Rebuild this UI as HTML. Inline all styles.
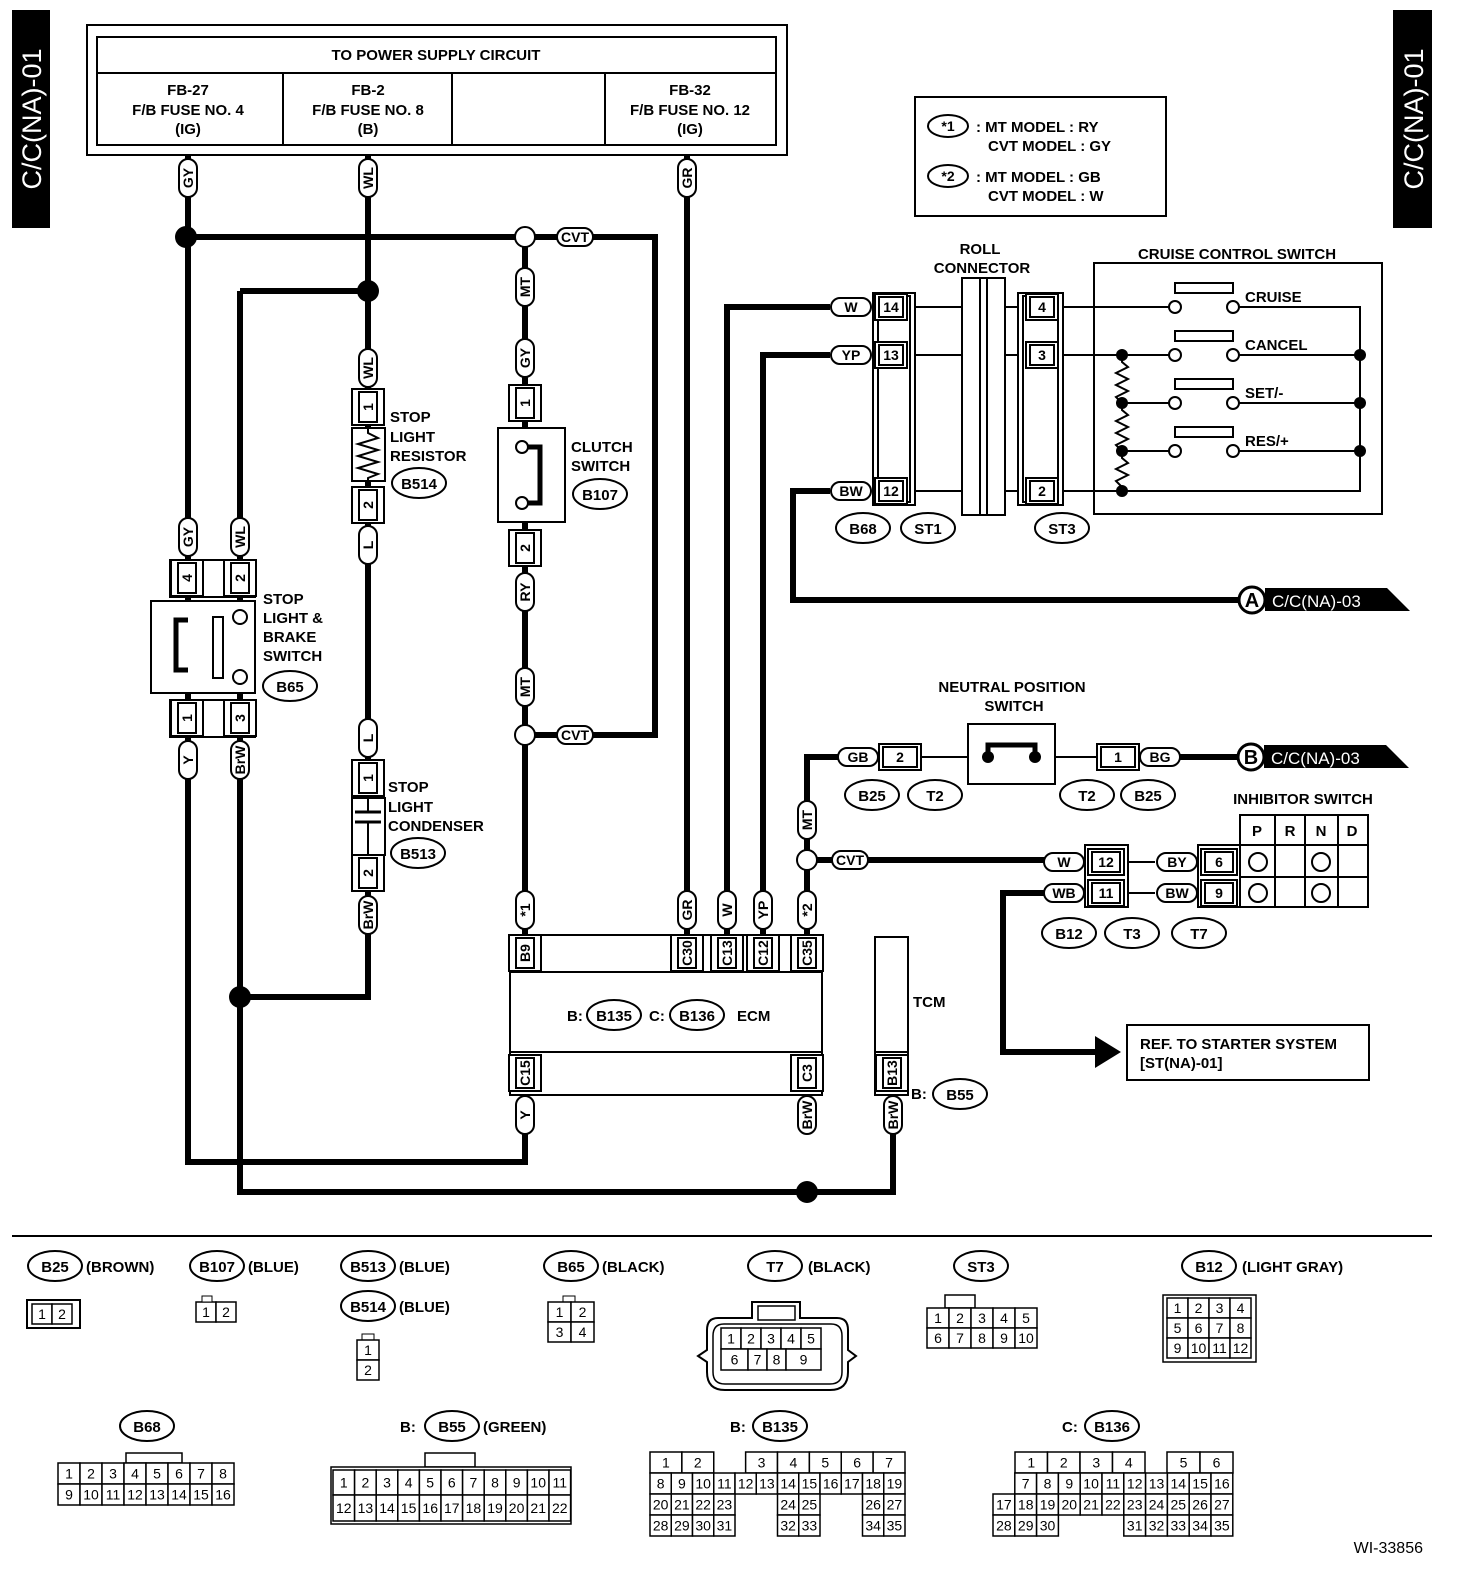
<!DOCTYPE html>
<html><head><meta charset="utf-8"><style>
html,body{margin:0;padding:0;background:#fff}
svg{display:block}
text{font-family:"Liberation Sans",sans-serif;font-weight:bold;fill:#000}
</style></head><body>
<svg id="s" width="1472" height="1576" viewBox="0 0 1472 1576" xmlns="http://www.w3.org/2000/svg">
<rect width="1472" height="1576" fill="#fff"/>
<!-- side tabs -->
<rect x="12" y="10" width="38" height="218" fill="#000"/>
<text transform="translate(41,119) rotate(-90)" text-anchor="middle" style="fill:#fff;font-size:27px;font-weight:normal">C/C(NA)-01</text>
<rect x="1393" y="10" width="39" height="218" fill="#000"/>
<text transform="translate(1423,119) rotate(-90)" text-anchor="middle" style="fill:#fff;font-size:27px;font-weight:normal">C/C(NA)-01</text>
<!-- power box -->
<rect x="87" y="25" width="700" height="130" fill="none" stroke="#000" stroke-width="2"/>
<rect x="97" y="37" width="679" height="108" fill="none" stroke="#000" stroke-width="2"/>
<line x1="97" y1="73" x2="776" y2="73" stroke="#000" stroke-width="2"/>
<line x1="283" y1="73" x2="283" y2="145" stroke="#000" stroke-width="2"/>
<line x1="452" y1="73" x2="452" y2="145" stroke="#000" stroke-width="2"/>
<line x1="605" y1="73" x2="605" y2="145" stroke="#000" stroke-width="2"/>
<g font-size="15" text-anchor="middle">
<text x="436" y="60" font-size="15">TO POWER SUPPLY CIRCUIT</text>
<text x="188" y="95" font-size="15">FB-27</text><text x="188" y="115" font-size="15">F/B FUSE NO. 4</text><text x="188" y="134" font-size="15">(IG)</text>
<text x="368" y="95" font-size="15">FB-2</text><text x="368" y="115" font-size="15">F/B FUSE NO. 8</text><text x="368" y="134" font-size="15">(B)</text>
<text x="690" y="95" font-size="15">FB-32</text><text x="690" y="115" font-size="15">F/B FUSE NO. 12</text><text x="690" y="134" font-size="15">(IG)</text>
</g>
<!-- legend -->
<rect x="915" y="97" width="251" height="119" fill="none" stroke="#000" stroke-width="2"/>
<ellipse cx="948" cy="126" rx="20" ry="11" fill="none" stroke="#000" stroke-width="2"/><text x="948" y="131" text-anchor="middle" font-size="14">*1</text>
<ellipse cx="948" cy="176" rx="20" ry="11" fill="none" stroke="#000" stroke-width="2"/><text x="948" y="181" text-anchor="middle" font-size="14">*2</text>
<text x="976" y="132" font-size="15">: MT MODEL  : RY</text>
<text x="988" y="151" font-size="15">CVT MODEL  : GY</text>
<text x="976" y="182" font-size="15">: MT MODEL  : GB</text>
<text x="988" y="201" font-size="15">CVT MODEL  : W</text>
<line x1="12" y1="1236" x2="1432" y2="1236" stroke="#000" stroke-width="2"/>
<text x="1423" y="1553" text-anchor="end" font-size="16" style="font-weight:normal">WI-33856</text>
<g id="g"></g>
</svg>
<script>
var g=document.getElementById('g'),h='';
function P(pts,w){h+='<polyline points="'+pts.join(' ')+'" fill="none" stroke="#000" stroke-width="'+(w||6)+'" stroke-linejoin="miter"/>';}
function T(x,y,t,s,a,extra){h+='<text x="'+x+'" y="'+y+'" font-size="'+(s||15)+'" text-anchor="'+(a||'start')+'" '+(extra||'')+'>'+t+'</text>';}
function R(x,y,w,hh,sw,f){h+='<rect x="'+x+'" y="'+y+'" width="'+w+'" height="'+hh+'" fill="'+(f||'#fff')+'" stroke="#000" stroke-width="'+(sw||2)+'"/>';}
function dot(x,y,r){h+='<circle cx="'+x+'" cy="'+y+'" r="'+(r||11)+'" fill="#000"/>';}
function oc(x,y,r){h+='<circle cx="'+x+'" cy="'+y+'" r="'+(r||10)+'" fill="#fff" stroke="#000" stroke-width="2"/>';}
function vp(x,y,t,l){l=l||38;h+='<rect x="'+(x-9)+'" y="'+(y-l/2)+'" width="18" height="'+l+'" rx="9" fill="#fff" stroke="#000" stroke-width="2"/>';
 h+='<text transform="translate('+(x+5)+','+y+') rotate(-90)" text-anchor="middle" font-size="14">'+t+'</text>';}
function hp(x,y,t,w){w=w||40;h+='<rect x="'+(x-w/2)+'" y="'+(y-9)+'" width="'+w+'" height="18" rx="9" fill="#fff" stroke="#000" stroke-width="2"/>';T(x,y+5,t,14,'middle');}
function ov(x,y,t,rx){rx=rx||27;h+='<ellipse cx="'+x+'" cy="'+y+'" rx="'+rx+'" ry="15" fill="#fff" stroke="#000" stroke-width="2"/>';T(x,y+6,t,15,'middle');}
function vc(x,y,t){R(x-16,y-18,32,36);R(x-9,y-15,18,30);h+='<text transform="translate('+(x+5)+','+y+') rotate(-90)" text-anchor="middle" font-size="14">'+t+'</text>';}
function hc(x,y,t,w){w=w||42;R(x-w/2,y-13,w,26);R(x-w/2+4,y-10,w-8,20);T(x,y+5,t,14,'middle');}
function arrowTag(x,y,l){h+='<circle cx="'+x+'" cy="'+y+'" r="13" fill="#fff" stroke="#000" stroke-width="3"/>';T(x,y+7,l,20,'middle');
 h+='<polygon points="'+(x+13)+','+(y-12)+' '+(x+135)+','+(y-12)+' '+(x+158)+','+(y+11)+' '+(x+13)+','+(y+11)+'" fill="#000"/>';
 T(x+20,y+7,'C/C(NA)-03',17,'start','style="fill:#fff;font-weight:normal"');}
// wires
P([188,155,188,1162,525,1162,525,1095]);
P([188,237,515,237]);P([535,237,655,237,655,735,535,735]);
P([368,155,368,997,240,997]);P([240,291,368,291]);P([240,291,240,1192,893,1192,893,1090]);
P([525,247,525,725]);P([525,745,525,935]);
P([687,155,687,935]);
P([727,935,727,307,830,307]);P([763,935,763,355,830,355]);
P([807,935,807,870]);P([807,850,807,757,840,757]);
P([817,860,1045,860]);
P([830,491,793,491,793,600,1240,600]);
P([1180,757,1240,757]);
P([1045,893,1003,893,1003,1052,1098,1052]);
h+='<polygon points="1095,1036 1121,1052 1095,1068" fill="#000"/>';
dot(186,237);dot(368,291);dot(240,997);dot(807,1192);
oc(525,237);oc(525,735);oc(807,860);
hp(575,237,'CVT',36);hp(575,735,'CVT',36);hp(850,860,'CVT',36);
vp(188,178,'GY');vp(368,178,'WL');vp(687,178,'GR');
// stop light & brake switch
vp(188,537,'GY');vp(240,537,'WL');
R(170,560,85,37);vc(187,578,'4');vc(240,578,'2');
R(151,601,104,92);
P([188,620,176,620,176,670,188,670],5);R(213,617,10,61,2);
oc(240,617,7);oc(240,677,7);
R(170,700,85,37);vc(187,718,'1');vc(240,718,'3');
vp(188,760,'Y');vp(240,760,'BrW');
T(263,604,'STOP');T(263,623,'LIGHT &amp;');T(263,642,'BRAKE');T(263,661,'SWITCH');ov(290,686,'B65');
// resistor
vp(368,368,'WL');vc(368,407,'1');
R(352,428,33,53);P([368,428,368,433,378,438,358,444,378,450,358,456,378,462,358,468,378,474,368,478,368,481],2);
vc(368,505,'2');vp(368,545,'L');
T(390,422,'STOP');T(390,442,'LIGHT');T(390,461,'RESISTOR');ov(419,483,'B514');
// condenser
vp(368,738,'L');vc(368,778,'1');
R(352,798,33,57);h+='<rect x="360" y="799" width="16" height="55" fill="#fff" stroke="none"/>';
P([368,799,368,812],2);P([355,812,381,812],3);P([355,822,381,822],3);P([368,822,368,854],2);
vc(368,873,'2');vp(368,915,'BrW');
T(388,792,'STOP');T(388,812,'LIGHT');T(388,831,'CONDENSER');ov(418,853,'B513');
// clutch
vp(525,287,'MT');vp(525,358,'GY');vc(525,403,'1');
R(498,428,67,94);P([522,447,540,447,540,503,522,503],5);oc(522,447,6);oc(522,503,6);
vc(525,548,'2');vp(525,592,'RY');vp(525,687,'MT');
T(571,452,'CLUTCH');T(571,471,'SWITCH');ov(600,494,'B107');
// ECM
vp(525,910,'*1');vp(687,910,'GR');vp(727,910,'W');vp(763,910,'YP');vp(807,910,'*2');
R(510,935,312,37);R(510,972,312,80);R(510,1052,312,43);
[[525,'B9'],[687,'C30'],[727,'C13'],[763,'C12'],[807,'C35']].forEach(function(a){vc(a[0],953,a[1]);});
vc(525,1073,'C15');vc(807,1073,'C3');
vp(525,1115,'Y');vp(807,1115,'BrW');
T(567,1021,'B:');ov(614,1015,'B135');T(649,1021,'C:');ov(697,1015,'B136');T(737,1021,'ECM');
// TCM
R(875,937,33,115);R(875,1052,33,43);vc(892,1073,'B13');vp(893,1115,'BrW');
T(913,1007,'TCM');T(911,1099,'B:');ov(960,1094,'B55');
// roll connector & B68/ST3
[307,355,491].forEach(function(y){P([915,y,1018,y],2);});
hp(851,307,'W');hp(851,355,'YP');hp(851,491,'BW');
R(873,293,42,212);R(878,296,32,206);hc(891,307,'14',32);hc(891,355,'13',32);hc(891,491,'12',32);
R(962,278,43,237);P([980,278,980,515],2);P([987,278,987,515],2);
R(1018,293,45,212);R(1023,296,35,206);hc(1042,307,'4',32);hc(1042,355,'3',32);hc(1042,491,'2',32);
ov(863,528,'B68');ov(928,528,'ST1');ov(1062,528,'ST3');
T(980,254,'ROLL',15,'middle');T(982,273,'CONNECTOR',15,'middle');
// cruise switch
R(1094,263,288,251);T(1237,259,'CRUISE CONTROL SWITCH',15,'middle');
P([1063,307,1169,307],2);P([1063,355,1169,355],2);P([1122,403,1169,403],2);P([1122,451,1169,451],2);P([1063,491,1360,491,1360,307,1239,307],2);
P([1239,355,1360,355],2);P([1239,403,1360,403],2);P([1239,451,1360,451],2);
P([1122,355,1122,362,1128,367,1116,373,1128,379,1116,385,1128,391,1116,397,1122,403,1122,410,1128,415,1116,421,1128,427,1116,433,1128,439,1116,445,1122,451,1122,458,1128,463,1116,469,1128,475,1116,481,1122,487,1122,491],2);
[355,403,451,491].forEach(function(y){dot(1122,y,6);});[355,403,451].forEach(function(y){dot(1360,y,6);});
[[307,'CRUISE'],[355,'CANCEL'],[403,'SET/-'],[451,'RES/+']].forEach(function(a){var y=a[0];
 R(1175,y-24,58,10);oc(1175,y,6);oc(1233,y,6);T(1245,y-5,a[1]);});
arrowTag(1252,600,'A');
// neutral switch
T(1012,692,'NEUTRAL POSITION',15,'middle');T(1014,711,'SWITCH',15,'middle');
hp(858,757,'GB');hc(900,757,'2',42);P([922,757,968,757],2);
R(968,724,87,60);P([988,757,988,745,1035,745,1035,757],5);dot(988,757,6);dot(1035,757,6);
P([1055,757,1097,757],2);hc(1118,757,'1',42);hp(1160,757,'BG');
ov(872,795,'B25');ov(935,795,'T2');ov(1087,795,'T2');ov(1148,795,'B25');
arrowTag(1251,757,'B');
// inhibitor
vp(807,820,'MT');
hp(1064,862,'W');hp(1064,893,'WB');
R(1085,845,43,62);hc(1106,862,'12',36);hc(1106,893,'11',36);
P([1128,862,1155,862],2);P([1128,893,1155,893],2);
hp(1177,862,'BY');hp(1177,893,'BW');
R(1198,845,42,62);hc(1219,862,'6',36);hc(1219,893,'9',36);
R(1240,815,128,92);
[1275,1305,1338].forEach(function(x){P([x,815,x,907],2);});P([1240,845,1368,845],2);P([1240,877,1368,877],2);
T(1257,836,'P',15,'middle');T(1290,836,'R',15,'middle');T(1321,836,'N',15,'middle');T(1352,836,'D',15,'middle');
[1258,1321].forEach(function(x){oc(x,862,9);oc(x,893,9);});
T(1303,804,'INHIBITOR SWITCH',15,'middle');
ov(1069,933,'B12');ov(1132,933,'T3');ov(1199,933,'T7');
R(1127,1025,242,55);T(1140,1049,'REF. TO STARTER SYSTEM');T(1140,1068,'[ST(NA)-01]');
// bottom connector labels
ov(55,1266,'B25');T(86,1272,'(BROWN)');
ov(217,1266,'B107');T(248,1272,'(BLUE)');
ov(368,1266,'B513');T(399,1272,'(BLUE)');
ov(368,1306,'B514');T(399,1312,'(BLUE)');
ov(571,1266,'B65');T(602,1272,'(BLACK)');
ov(775,1266,'T7');T(808,1272,'(BLACK)');
ov(981,1266,'ST3');
ov(1209,1266,'B12');T(1242,1272,'(LIGHT GRAY)');
ov(147,1426,'B68');
T(400,1432,'B:');ov(452,1426,'B55');T(483,1432,'(GREEN)');
T(730,1432,'B:');ov(780,1426,'B135');
T(1062,1432,'C:');ov(1112,1426,'B136');
function cell(x,y,w,hh,t,fs){R(x,y,w,hh,1.5);T(x+w/2,y+hh/2+5,t,fs||14,'middle','style="font-weight:normal"');}
function row(x0,y,w,hh,labels){labels.forEach(function(t,i){if(t!==null)cell(x0+i*w,y,w,hh,t);});}
// B25
R(27,1300,53,28);row(32,1304,20,20,['1','2']);
// B107
row(196,1302,20,20,['1','2']);R(202,1296,10,6,1);
// B514
R(362,1334,12,6,1);row(357,1340,22,20,['1']);row(357,1360,22,20,['2']);
// B65
R(563,1296,12,6,1);row(548,1302,23,20,['1','2']);row(548,1322,23,20,['3','4']);
// T7
h+='<path d="M718,1318 Q707,1318 707,1330 L707,1350 L698,1356 L707,1362 L707,1372 Q707,1390 725,1390 L830,1390 Q848,1390 848,1372 L848,1362 L856,1356 L848,1350 L848,1330 Q848,1318 837,1318 L800,1318 L800,1302 L752,1302 L752,1318 Z" fill="#fff" stroke="#000" stroke-width="2"/>';
h+='<path d="M724,1324 L831,1324 Q842,1324 842,1336 L842,1372 Q842,1384 830,1384 L725,1384 Q713,1384 713,1372 L713,1336 Q713,1324 724,1324 Z" fill="none" stroke="#000" stroke-width="1.5"/>';
R(758,1306,37,14,1.5);
row(721,1328,20,21,['1','2','3','4','5']);
cell(721,1349,27,21,'6');cell(748,1349,19,21,'7');cell(767,1349,19,21,'8');cell(786,1349,35,21,'9');
// ST3
R(945,1295,30,13,1.5);row(927,1308,22,20,['1','2','3','4','5']);row(927,1328,22,20,['6','7','8','9','10']);
// B12
R(1163,1295,93,67,1.5);row(1167,1298,21,20,['1','2','3','4']);row(1167,1318,21,20,['5','6','7','8']);row(1167,1338,21,20,['9','10','11','12']);
// B68
R(126,1453,56,10,1.5);row(58,1463,22,21,['1','2','3','4','5','6','7','8']);row(58,1484,22,21,['9','10','11','12','13','14','15','16']);
// B55
R(425,1453,50,14,1.5);R(331,1467,240,57,1.5);
row(333,1470,21.6,25,['1','2','3','4','5','6','7','8','9','10','11']);row(333,1495,21.6,26,['12','13','14','15','16','17','18','19','20','21','22']);
// B135
var w1=255/8;[['1',0],['2',1],['3',3],['4',4],['5',5],['6',6],['7',7]].forEach(function(a){cell(650+a[1]*w1,1452,w1,21,a[0]);});
row(650,1473,21.25,21,['8','9','10','11','12','13','14','15','16','17','18','19']);
row(650,1494,21.25,21,['20','21','22','23',null,null,'24','25',null,null,'26','27']);
row(650,1515,21.25,21,['28','29','30','31',null,null,'32','33',null,null,'34','35']);
// B136
var c=21.8;[['1',0],['2',1],['3',2],['4',3]].forEach(function(a){cell(1015+a[1]*32.5,1452,32.5,21,a[0]);});
cell(1167,1452,33,21,'5');cell(1200,1452,33,21,'6');
row(993,1473,c,21,[null,'7','8','9','10','11','12','13','14','15','16']);
row(993,1494,c,21,['17','18','19','20','21','22','23','24','25','26','27']);
row(993,1515,c,21,['28','29','30',null,null,null,'31','32','33','34','35']);
g.innerHTML=h;
</script>
</body></html>
